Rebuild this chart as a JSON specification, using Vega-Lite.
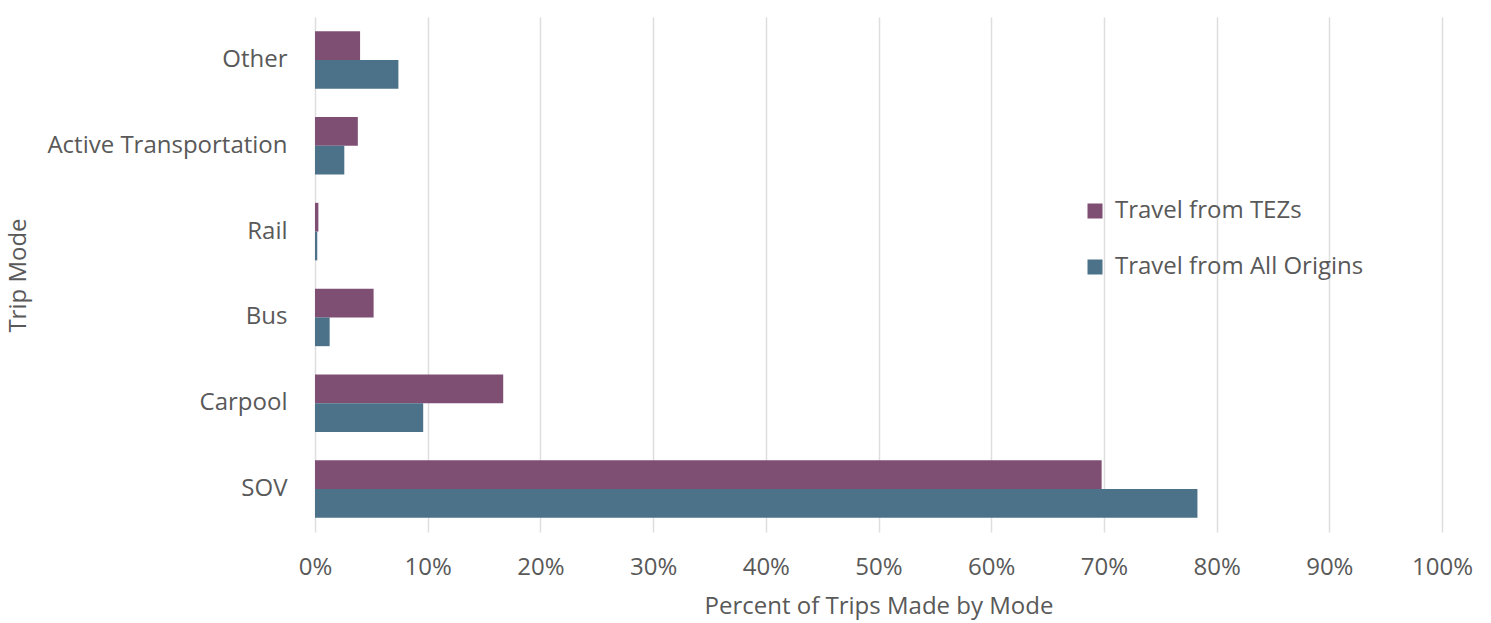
{
  "$schema": "https://vega.github.io/schema/vega-lite/v6.json",
  "width": 1127,
  "height": 515,
  "autosize": {"type": "none"},
  "padding": {"left": 315, "top": 17, "right": 49, "bottom": 91},
  "background": "#ffffff",
  "config": {"view": {"stroke": null}, "font": "Open Sans"},
  "data": {
    "values": [
      {"mode": "Other", "series": "Travel from TEZs", "pct": 4.0},
      {"mode": "Other", "series": "Travel from All Origins", "pct": 7.4},
      {"mode": "Active Transportation", "series": "Travel from TEZs", "pct": 3.8},
      {"mode": "Active Transportation", "series": "Travel from All Origins", "pct": 2.6},
      {"mode": "Rail", "series": "Travel from TEZs", "pct": 0.3},
      {"mode": "Rail", "series": "Travel from All Origins", "pct": 0.2},
      {"mode": "Bus", "series": "Travel from TEZs", "pct": 5.2},
      {"mode": "Bus", "series": "Travel from All Origins", "pct": 1.3},
      {"mode": "Carpool", "series": "Travel from TEZs", "pct": 16.7},
      {"mode": "Carpool", "series": "Travel from All Origins", "pct": 9.6},
      {"mode": "SOV", "series": "Travel from TEZs", "pct": 69.8},
      {"mode": "SOV", "series": "Travel from All Origins", "pct": 78.3}
    ]
  },
  "mark": {"type": "bar"},
  "encoding": {
    "y": {
      "field": "mode",
      "type": "nominal",
      "sort": ["Other", "Active Transportation", "Rail", "Bus", "Carpool", "SOV"],
      "scale": {"paddingInner": 0.33, "paddingOuter": 0.165},
      "axis": {
        "title": "Trip Mode",
        "titleFontSize": 24,
        "titleFontWeight": "normal",
        "titleColor": "#595959",
        "titleX": -297,
        "titleY": 258,
        "titleBaseline": "middle",
        "titleAngle": -90,
        "labelFontSize": 24,
        "labelColor": "#595959",
        "labelPadding": 28,
        "labelLimit": 400,
        "ticks": false,
        "domain": false,
        "grid": false
      }
    },
    "yOffset": {
      "field": "series",
      "type": "nominal",
      "sort": ["Travel from TEZs", "Travel from All Origins"]
    },
    "x": {
      "field": "pct",
      "type": "quantitative",
      "scale": {"domain": [0, 100], "nice": false},
      "axis": {
        "title": "Percent of Trips Made by Mode",
        "titleFontSize": 24,
        "titleFontWeight": "normal",
        "titleColor": "#595959",
        "titlePadding": 15,
        "values": [0, 10, 20, 30, 40, 50, 60, 70, 80, 90, 100],
        "labelExpr": "datum.value + '%'",
        "labelFontSize": 24,
        "labelColor": "#595959",
        "labelPadding": 23,
        "labelFlush": false,
        "labelOverlap": false,
        "ticks": false,
        "domain": false,
        "grid": true,
        "gridColor": "#dedede",
        "gridWidth": 1.5
      }
    },
    "color": {
      "field": "series",
      "type": "nominal",
      "sort": ["Travel from TEZs", "Travel from All Origins"],
      "scale": {
        "domain": ["Travel from TEZs", "Travel from All Origins"],
        "range": ["#7e4e73", "#4b7289"]
      },
      "legend": {
        "title": null,
        "orient": "none",
        "legendX": 768,
        "legendY": 182,
        "symbolType": "square",
        "symbolSize": 225,
        "symbolStrokeWidth": 0,
        "labelFontSize": 24,
        "labelColor": "#595959",
        "labelOffset": 8,
        "labelLimit": 400,
        "rowPadding": 32
      }
    }
  }
}
